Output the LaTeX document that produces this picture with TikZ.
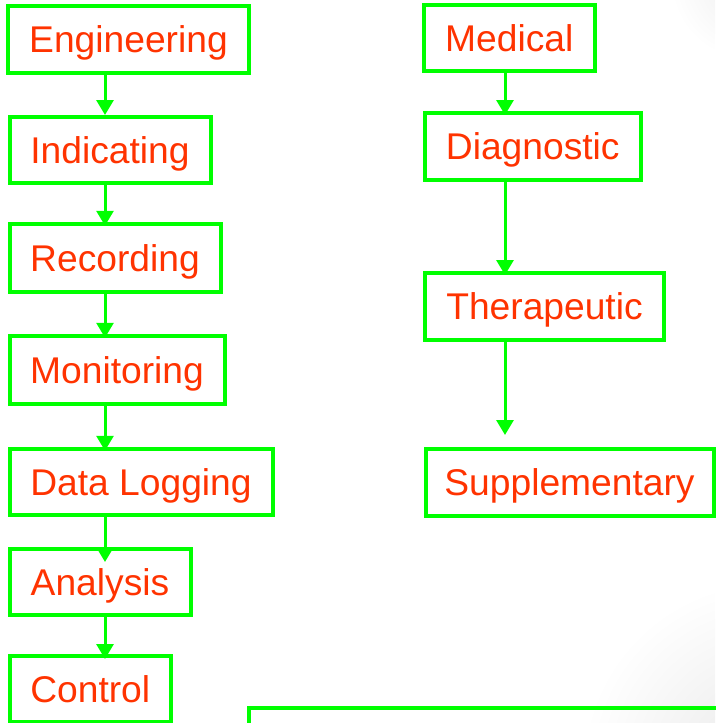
\documentclass[tikz,border=0pt]{standalone}
\usepackage{fontspec}
\setmainfont{Liberation Sans}
\usetikzlibrary{arrows.meta}
\definecolor{boxgreen}{RGB}{0,255,0}
\definecolor{txtred}{RGB}{255,51,0}
\tikzset{
  box/.style={draw=boxgreen, line width=4pt, rectangle, inner sep=0pt,
    text=txtred, font=\fontsize{37.2}{40}\selectfont,
    text height=26.5pt, text depth=0pt},
  arr/.style={draw=boxgreen, line width=3pt,
    -{Triangle[width=17pt,length=15pt]}}
}
\begin{document}
\begin{tikzpicture}[x=1pt,y=-1pt]
\useasboundingbox (0,0) rectangle (715,723);
\fill[white] (0,0) rectangle (715,723);
\begin{scope}
\clip (0,0) rectangle (715,723);
\shade[inner color=black!9, outer color=white] (770,770) circle (190);
\shade[inner color=black!7, outer color=white] (750,-20) circle (80);
\end{scope}
\coordinate (lx) at (105,0);
\coordinate (rx) at (505,0);
% left column
\node[box, minimum width=241pt, minimum height=67pt] (eng) at (128.5,39.5) {Engineering};
\node[box, minimum width=201pt, minimum height=66pt] (ind) at (110,150) {Indicating};
\node[box, minimum width=211pt, minimum height=67.5pt] (rec) at (115,258) {Recording};
\node[box, minimum width=215pt, minimum height=67.5pt] (mon) at (117,370) {Monitoring};
\node[box, minimum width=263pt, minimum height=66.5pt] (dat) at (141,482) {Data Logging};
\node[box, minimum width=181pt, minimum height=66pt] (ana) at (100,582) {Analysis};
\node[box, minimum width=161.5pt, minimum height=65.5pt] (con) at (90.25,688.75) {Control};
% right column
\node[box, minimum width=170.5pt, minimum height=66pt] (med) at (509.25,38) {Medical};
\node[box, minimum width=215.5pt, minimum height=66.5pt] (dia) at (532.75,146.25) {Diagnostic};
\node[box, minimum width=239pt, minimum height=66.5pt] (the) at (544.5,306.25) {Therapeutic};
\node[box, minimum width=288pt, minimum height=67pt] (sup) at (569.5,482) {Supplementary};
\coordinate (supin) at (505,435);
% bottom frame (partly outside the picture)
\draw[draw=boxgreen, line width=4pt] (249,740) -- (249,708) -- (730,708);
% connectors
\draw[arr] (eng.south -| lx) -- (ind.north -| lx);
\draw[arr, shorten >=-3.5pt] (ind.south -| lx) -- (rec.north -| lx);
\draw[arr, shorten >=-3.5pt] (rec.south -| lx) -- (mon.north -| lx);
\draw[arr, shorten >=-4pt] (mon.south -| lx) -- (dat.north -| lx);
\draw[arr, shorten >=-15pt] (dat.south -| lx) -- (ana.north -| lx);
\draw[arr, shorten >=-5pt] (ana.south -| lx) -- (con.north -| lx);
\draw[arr, shorten >=-4pt] (med.south -| rx) -- (dia.north -| rx);
\draw[arr, shorten >=-4pt] (dia.south -| rx) -- (the.north -| rx);
\draw[arr] (the.south -| rx) -- (supin);
\end{tikzpicture}
\end{document}
